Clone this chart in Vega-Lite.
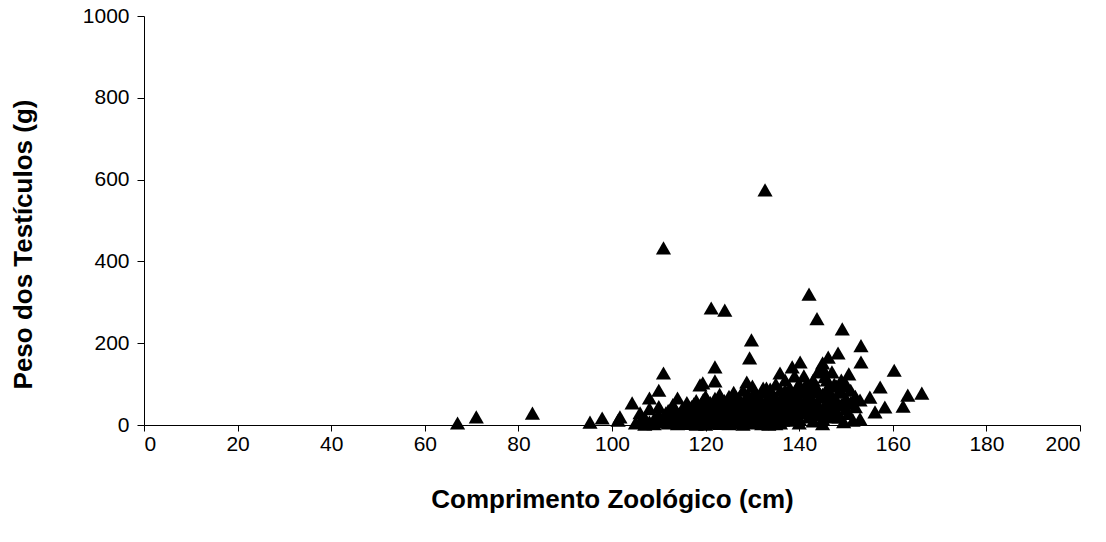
{
  "$schema": "https://vega.github.io/schema/vega-lite/v6.json",
  "width": 936,
  "height": 409,
  "autosize": {"type": "none"},
  "padding": {"left": 144, "top": 16, "right": 26, "bottom": 117},
  "background": "white",
  "config": {
    "view": {"stroke": null},
    "font": "Liberation Sans",
    "axis": {"grid": false, "domainColor": "#000000", "tickColor": "#000000", "labelColor": "#000000", "titleColor": "#000000", "labelFont": "Liberation Sans", "titleFont": "Liberation Sans", "labelFontSize": 21, "titleFontSize": 26, "titleFontWeight": "bold", "domainWidth": 1, "tickWidth": 1}
  },
  "data": {"values": [
    {"x": 67, "y": 5}, {"x": 71, "y": 20}, {"x": 83, "y": 29},
    {"x": 95.3, "y": 7}, {"x": 97.9, "y": 17}, {"x": 101.3, "y": 12}, {"x": 101.7, "y": 20},
    {"x": 104.3, "y": 54}, {"x": 108, "y": 66}, {"x": 114, "y": 66}, {"x": 110, "y": 85},
    {"x": 111, "y": 433}, {"x": 111, "y": 127}, {"x": 118.8, "y": 98}, {"x": 119.4, "y": 103},
    {"x": 122, "y": 142}, {"x": 122, "y": 108}, {"x": 121.2, "y": 286}, {"x": 124.1, "y": 281},
    {"x": 132.7, "y": 575}, {"x": 129.8, "y": 208}, {"x": 129.4, "y": 164},
    {"x": 142.1, "y": 320}, {"x": 143.8, "y": 260}, {"x": 149.2, "y": 235},
    {"x": 153.2, "y": 194}, {"x": 148.3, "y": 176}, {"x": 153.2, "y": 154}, {"x": 160.3, "y": 134},
    {"x": 150.6, "y": 125}, {"x": 157.3, "y": 93}, {"x": 163.2, "y": 73}, {"x": 166.2, "y": 78},
    {"x": 162.2, "y": 46}, {"x": 158.3, "y": 44}, {"x": 156.2, "y": 32}, {"x": 153, "y": 15},
    {"x": 155.1, "y": 68}, {"x": 153, "y": 61}, {"x": 146.2, "y": 24},
    {"x": 140.2, "y": 154}, {"x": 146.2, "y": 166}, {"x": 145, "y": 152}, {"x": 128.8, "y": 105},
    {"x": 135.9, "y": 127}, {"x": 138.5, "y": 142}, {"x": 132.3, "y": 90}, {"x": 133.8, "y": 88},
    {"x": 105, "y": 5}, {"x": 106, "y": 10}, {"x": 106, "y": 30}, {"x": 107, "y": 2}, {"x": 107, "y": 18},
    {"x": 108, "y": 8}, {"x": 108, "y": 40}, {"x": 109, "y": 15}, {"x": 109, "y": 3}, {"x": 110, "y": 25},
    {"x": 110, "y": 45}, {"x": 111, "y": 8}, {"x": 111, "y": 20}, {"x": 112, "y": 35}, {"x": 112, "y": 5},
    {"x": 113, "y": 12}, {"x": 113, "y": 50}, {"x": 114, "y": 28}, {"x": 114, "y": 3}, {"x": 115, "y": 18},
    {"x": 115, "y": 40}, {"x": 115, "y": 8}, {"x": 116, "y": 55}, {"x": 116, "y": 22}, {"x": 116, "y": 4},
    {"x": 117, "y": 30}, {"x": 117, "y": 12}, {"x": 117, "y": 45}, {"x": 118, "y": 6}, {"x": 118, "y": 20},
    {"x": 118, "y": 60}, {"x": 119, "y": 35}, {"x": 119, "y": 10}, {"x": 119, "y": 50}, {"x": 120, "y": 2},
    {"x": 120, "y": 25}, {"x": 120, "y": 70}, {"x": 120, "y": 42}, {"x": 121, "y": 15}, {"x": 121, "y": 55},
    {"x": 121, "y": 30}, {"x": 121, "y": 5}, {"x": 122, "y": 65}, {"x": 122, "y": 20}, {"x": 122, "y": 40},
    {"x": 122, "y": 10}, {"x": 123, "y": 50}, {"x": 123, "y": 28}, {"x": 123, "y": 4}, {"x": 123, "y": 75},
    {"x": 124, "y": 35}, {"x": 124, "y": 15}, {"x": 124, "y": 60}, {"x": 124, "y": 8}, {"x": 125, "y": 45},
    {"x": 125, "y": 22}, {"x": 125, "y": 70}, {"x": 125, "y": 3}, {"x": 126, "y": 55}, {"x": 126, "y": 30},
    {"x": 126, "y": 12}, {"x": 126, "y": 80}, {"x": 127, "y": 40}, {"x": 127, "y": 18}, {"x": 127, "y": 65},
    {"x": 127, "y": 6}, {"x": 128, "y": 50}, {"x": 128, "y": 25}, {"x": 128, "y": 85}, {"x": 128, "y": 10},
    {"x": 129, "y": 60}, {"x": 129, "y": 35}, {"x": 129, "y": 15}, {"x": 129, "y": 75}, {"x": 130, "y": 45},
    {"x": 130, "y": 20}, {"x": 130, "y": 95}, {"x": 130, "y": 5}, {"x": 131, "y": 55}, {"x": 131, "y": 30},
    {"x": 131, "y": 70}, {"x": 131, "y": 12}, {"x": 132, "y": 40}, {"x": 132, "y": 80}, {"x": 132, "y": 22},
    {"x": 132, "y": 3}, {"x": 133, "y": 60}, {"x": 133, "y": 35}, {"x": 133, "y": 90}, {"x": 133, "y": 15},
    {"x": 134, "y": 50}, {"x": 134, "y": 25}, {"x": 134, "y": 75}, {"x": 134, "y": 8}, {"x": 135, "y": 65},
    {"x": 135, "y": 40}, {"x": 135, "y": 100}, {"x": 135, "y": 18}, {"x": 136, "y": 55}, {"x": 136, "y": 30},
    {"x": 136, "y": 85}, {"x": 136, "y": 5}, {"x": 137, "y": 70}, {"x": 137, "y": 45}, {"x": 137, "y": 20},
    {"x": 137, "y": 110}, {"x": 138, "y": 60}, {"x": 138, "y": 35}, {"x": 138, "y": 90}, {"x": 138, "y": 12},
    {"x": 139, "y": 75}, {"x": 139, "y": 50}, {"x": 139, "y": 25}, {"x": 139, "y": 120}, {"x": 140, "y": 65},
    {"x": 140, "y": 40}, {"x": 140, "y": 100}, {"x": 140, "y": 15}, {"x": 141, "y": 80}, {"x": 141, "y": 55},
    {"x": 141, "y": 30}, {"x": 141, "y": 120}, {"x": 142, "y": 70}, {"x": 142, "y": 45}, {"x": 142, "y": 95},
    {"x": 142, "y": 20}, {"x": 143, "y": 60}, {"x": 143, "y": 35}, {"x": 143, "y": 110}, {"x": 143, "y": 10},
    {"x": 144, "y": 85}, {"x": 144, "y": 50}, {"x": 144, "y": 130}, {"x": 144, "y": 25}, {"x": 145, "y": 75},
    {"x": 145, "y": 40}, {"x": 145, "y": 140}, {"x": 145, "y": 15}, {"x": 146, "y": 90}, {"x": 146, "y": 55},
    {"x": 146, "y": 28}, {"x": 146, "y": 110}, {"x": 147, "y": 70}, {"x": 147, "y": 45}, {"x": 147, "y": 130},
    {"x": 147, "y": 20}, {"x": 148, "y": 95}, {"x": 148, "y": 60}, {"x": 148, "y": 35}, {"x": 149, "y": 80},
    {"x": 149, "y": 50}, {"x": 149, "y": 110}, {"x": 150, "y": 65}, {"x": 150, "y": 40}, {"x": 150, "y": 100},
    {"x": 151, "y": 55}, {"x": 151, "y": 85}, {"x": 152, "y": 45}, {"x": 152, "y": 70},
    {"x": 118, "y": 2}, {"x": 125, "y": 10}, {"x": 135, "y": 3}, {"x": 140, "y": 5}, {"x": 145, "y": 3},
    {"x": 128, "y": 2}, {"x": 132, "y": 55}, {"x": 137, "y": 85}, {"x": 126, "y": 42}, {"x": 131, "y": 48},
    {"x": 124, "y": 25}, {"x": 120, "y": 12}, {"x": 119, "y": 22}, {"x": 116, "y": 38}, {"x": 114, "y": 14},
    {"x": 112, "y": 22}, {"x": 110, "y": 12},
    {"x": 123.5, "y": 62}, {"x": 126.5, "y": 68}, {"x": 129.5, "y": 48}, {"x": 130.5, "y": 82}, {"x": 133.5, "y": 72},
    {"x": 134.5, "y": 62}, {"x": 136.5, "y": 72}, {"x": 138.5, "y": 78}, {"x": 139.5, "y": 92}, {"x": 140.5, "y": 86},
    {"x": 141.5, "y": 100}, {"x": 142.5, "y": 82}, {"x": 143.5, "y": 95}, {"x": 144.5, "y": 68}, {"x": 145.5, "y": 118},
    {"x": 146.5, "y": 78}, {"x": 147.5, "y": 100}, {"x": 148.5, "y": 82}, {"x": 149.5, "y": 95}, {"x": 127.5, "y": 58},
    {"x": 125.5, "y": 35}, {"x": 122.5, "y": 32}, {"x": 121.5, "y": 45}, {"x": 119.5, "y": 62}, {"x": 117.5, "y": 52},
    {"x": 115.5, "y": 28}, {"x": 113.5, "y": 38}, {"x": 111.5, "y": 30}, {"x": 130.5, "y": 38}, {"x": 134.5, "y": 40},
    {"x": 138.5, "y": 48}, {"x": 141.5, "y": 42}, {"x": 144.5, "y": 38}, {"x": 148.5, "y": 20}, {"x": 150.5, "y": 28},
    {"x": 151.5, "y": 12}, {"x": 149.5, "y": 8}, {"x": 136.5, "y": 12}, {"x": 133.5, "y": 2}, {"x": 127.5, "y": 30}
  ]},
  "mark": {"type": "point", "shape": "triangle-up", "filled": true, "color": "#000000", "opacity": 1, "size": 230},
  "encoding": {
    "x": {"field": "x", "type": "quantitative", "scale": {"domain": [0, 200], "nice": false, "zero": false},
      "axis": {"values": [0, 20, 40, 60, 80, 100, 120, 140, 160, 180, 200], "format": "d", "tickSize": 6, "labelPadding": 2, "title": "Comprimento Zoológico (cm)", "titlePadding": 32}},
    "y": {"field": "y", "type": "quantitative", "scale": {"domain": [0, 1000], "nice": false},
      "axis": {"values": [0, 200, 400, 600, 800, 1000], "format": "d", "tickSize": 7, "labelPadding": 8, "title": "Peso dos Testículos (g)", "titlePadding": 46, "titleY": 228}}
  }
}
